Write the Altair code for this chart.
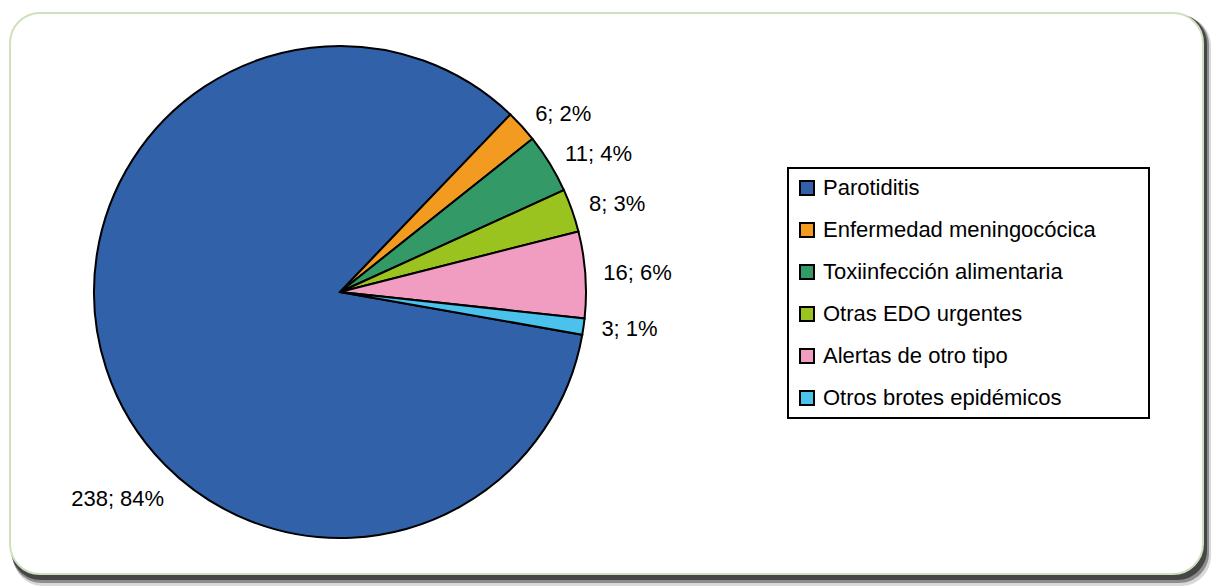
import math
import altair as alt
import pandas as pd

categories = ["Parotiditis", "Enfermedad meningocócica", "Toxiinfección alimentaria",
              "Otras EDO urgentes", "Alertas de otro tipo", "Otros brotes epidémicos"]
values = [238, 6, 11, 8, 16, 3]
colors = ["#3162A9", "#F39A21", "#339966", "#9BC31F", "#F19CC1", "#4BC2EC"]

total = sum(values)
labels = [f"{v}; {round(v / total * 100)}%" for v in values]
df = pd.DataFrame({
    "cat": categories,
    "value": values,
    "order": list(range(len(values))),
    "label": labels,
    "small_label": ["" if c == "Parotiditis" else l for c, l in zip(categories, labels)],
})

W, H = 1212, 587
CX, CY, R = 340, 292, 246
FONT = "Liberation Sans"
FS = 22
start = math.radians(100)
theta_scale = alt.Scale(range=[start, start + 2 * math.pi])
color_scale = alt.Scale(domain=categories, range=colors)

one = alt.Data(values=[{}])

def rect_layer(x1, y1, x2, y2, **kw):
    return alt.Chart(one).mark_rect(cornerRadius=30, **kw).encode(
        x=alt.value(x1), x2=alt.value(x2), y=alt.value(y1), y2=alt.value(y2))

shadow = [
    rect_layer(13, 16, 1211, 586, fill="#000000", opacity=0.15),
    rect_layer(12, 15, 1209, 583, fill="#000000", opacity=0.35),
    rect_layer(11, 14, 1207, 580, fill="#000000", opacity=0.5),
]
card = rect_layer(10, 13, 1203, 574, fill="white", stroke="#cfe0bd", strokeWidth=2)
legend_frame = alt.Chart(one).mark_rect(fill="white", stroke="black", strokeWidth=2).encode(
    x=alt.value(788), x2=alt.value(1149), y=alt.value(168), y2=alt.value(418))

base = alt.Chart(df)
theta = alt.Theta("value:Q", stack=True, scale=theta_scale)
order = alt.Order("order:Q")

arcs = base.mark_arc(radius=R, stroke="black", strokeWidth=2).encode(
    theta=theta,
    order=order,
    x=alt.value(CX), y=alt.value(CY),
    color=alt.Color("cat:N", scale=color_scale, sort=categories,
                    legend=alt.Legend(title=None, orient="none", legendX=796, legendY=177,
                                      symbolType="square", symbolSize=196,
                                      symbolStrokeColor="black", symbolStrokeWidth=2,
                                      symbolOpacity=1, labelFontSize=FS, labelFont=FONT,
                                      labelColor="black", rowPadding=20, labelOffset=5,
                                      padding=0, labelLimit=400)),
)

small_text = base.mark_text(radius=264, align="left", baseline="middle",
                            fontSize=FS, font=FONT, color="black").encode(
    theta=theta, order=order, x=alt.value(CX), y=alt.value(CY),
    text="small_label:N",
)

big_text = base.transform_filter(alt.datum.cat == "Parotiditis").mark_text(
    align="center", baseline="middle", fontSize=FS, font=FONT, color="black",
    radius=304, theta=math.radians(227)).encode(
    x=alt.value(CX), y=alt.value(CY), text="label:N")

chart = alt.layer(*shadow, card, legend_frame, arcs, small_text, big_text).properties(
    width=W, height=H, padding=0, autosize="none", background="white"
).configure_view(strokeWidth=0)

chart.save("out.html", embed_options={"renderer": "svg", "actions": False})
